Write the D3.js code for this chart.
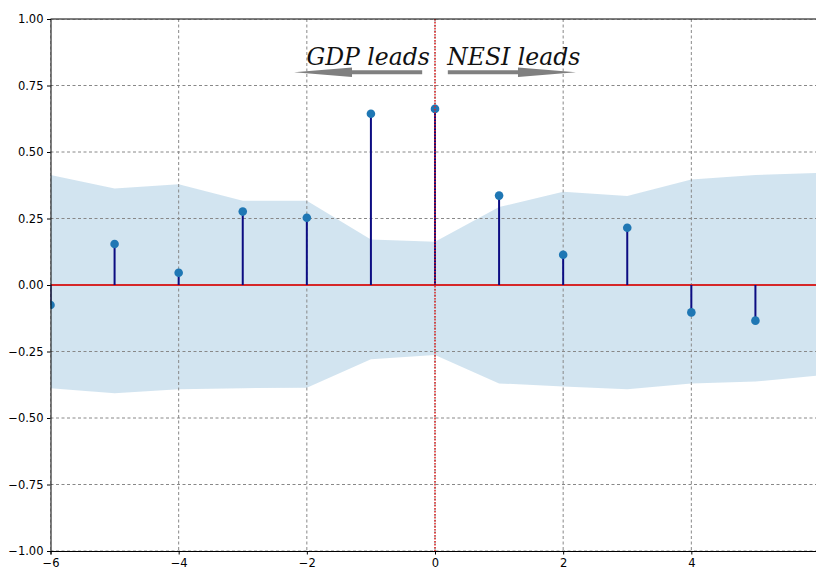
<!DOCTYPE html>
<html>
<head>
<meta charset="utf-8">
<script src="https://cdn.jsdelivr.net/npm/d3@7"></script>
<style>
  body { margin: 0; background: #fff; }
  svg { display: block; }
  .tick text { font-family: "DejaVu Sans", sans-serif; font-size: 11.5px; fill: #000; }
</style>
</head>
<body>
<div id="chart"></div>
<script>
// lags and cross-correlation values
const lags = [-6, -5, -4, -3, -2, -1, 0, 1, 2, 3, 4, 5];
const ccf = [-0.075, 0.154, 0.046, 0.276, 0.253, 0.644, 0.662, 0.336, 0.114, 0.215, -0.103, -0.134];

// confidence band (upper / lower) at each lag
const bandLags = [-6, -5, -4, -3, -2, -1, 0, 1, 2, 3, 4, 5, 6];
const bandUpper = [0.414, 0.363, 0.379, 0.317, 0.317, 0.171, 0.163, 0.293, 0.351, 0.335, 0.397, 0.414, 0.421];
const bandLower = [-0.388, -0.407, -0.392, -0.388, -0.386, -0.279, -0.263, -0.37, -0.382, -0.392, -0.37, -0.363, -0.34];

const xTicks = [-6, -4, -2, 0, 2, 4, 6];
const yTicks = [-1, -0.75, -0.5, -0.25, 0, 0.25, 0.5, 0.75, 1];

// arrow annotations: label, text anchor x, arrow from -> to
const notes = [
  { label: "GDP leads", tx: -0.08, anchor: "end", from: -0.2, to: -2.2 },
  { label: "NESI leads", tx: 0.19, anchor: "start", from: 0.2, to: 2.2 }
];
const noteY = 0.8;

const W = 816, H = 567;
const x = d3.scaleLinear().domain([-6, 6]).range([50.5, 819.5]);
const y = d3.scaleLinear().domain([-1, 1]).range([551, 19]);

const svg = d3.select("#chart").append("svg")
    .attr("width", W)
    .attr("height", H);

svg.append("defs").append("clipPath")
    .attr("id", "plot")
    .append("rect")
    .attr("x", x(-6)).attr("y", y(1))
    .attr("width", x(6) - x(-6)).attr("height", y(-1) - y(1));

const plot = svg.append("g").attr("clip-path", "url(#plot)");

// confidence band
const band = bandLags.map((d, i) => ({ lag: d, hi: bandUpper[i], lo: bandLower[i] }));
plot.append("path")
    .datum(band)
    .attr("fill", "#1f77b4")
    .attr("fill-opacity", 0.2)
    .attr("d", d3.area().x(d => x(d.lag)).y0(d => y(d.lo)).y1(d => y(d.hi)));

// grid
plot.append("g").selectAll("line")
    .data(xTicks)
    .join("line")
    .attr("x1", d => x(d)).attr("x2", d => x(d))
    .attr("y1", y(1)).attr("y2", y(-1))
    .attr("stroke", "#888")
    .attr("stroke-width", 1)
    .attr("stroke-dasharray", "3,2.5");

plot.append("g").selectAll("line")
    .data(yTicks)
    .join("line")
    .attr("x1", x(-6)).attr("x2", x(6))
    .attr("y1", d => y(d)).attr("y2", d => y(d))
    .attr("stroke", "#888")
    .attr("stroke-width", 1)
    .attr("stroke-dasharray", "3,2.5");

// zero line
plot.append("line")
    .attr("x1", x(-6)).attr("x2", x(6))
    .attr("y1", y(0)).attr("y2", y(0))
    .attr("stroke", "#d62728")
    .attr("stroke-width", 1.8);

const pts = lags.map((d, i) => ({ lag: d, v: ccf[i] }));

// stems
plot.append("g").selectAll("line")
    .data(pts)
    .join("line")
    .attr("x1", d => x(d.lag)).attr("x2", d => x(d.lag))
    .attr("y1", y(0)).attr("y2", d => y(d.v))
    .attr("stroke", "#0c0c82")
    .attr("stroke-width", 2);

// markers
plot.append("g").selectAll("circle")
    .data(pts)
    .join("circle")
    .attr("cx", d => x(d.lag))
    .attr("cy", d => y(d.v))
    .attr("r", 4.3)
    .attr("fill", "#1f77b4");

// vertical dotted line at lag 0
plot.append("line")
    .attr("x1", x(0)).attr("x2", x(0))
    .attr("y1", y(1)).attr("y2", y(-1))
    .attr("stroke", "#e02020")
    .attr("stroke-width", 1.5)
    .attr("stroke-dasharray", "1.5,1.5");

// arrows + labels
notes.forEach(n => {
    const x0 = x(n.from), x1 = x(n.to), yy = y(noteY);
    const dir = Math.sign(x1 - x0);
    const headLen = 58, shaft = 2, head = 4.8;
    const xh = x1 - dir * headLen;
    const pathStr = `M${x0},${yy - shaft} L${xh},${yy - shaft} L${xh},${yy - head} L${x1},${yy} ` +
        `L${xh},${yy + head} L${xh},${yy + shaft} L${x0},${yy + shaft} Z`;
    svg.append("path")
        .attr("d", pathStr)
        .attr("fill", "#808080");

    svg.append("text")
        .attr("x", x(n.tx))
        .attr("y", 65)
        .attr("text-anchor", n.anchor)
        .attr("font-family", "DejaVu Serif, serif")
        .attr("font-style", "italic")
        .attr("font-size", 23.5)
        .attr("fill", "#111")
        .text(n.label);
});

// axes
const axL = svg.append("g")
    .attr("transform", `translate(${x(-6)},0)`)
    .call(d3.axisLeft(y).tickValues(yTicks).tickSize(3.5).tickPadding(3.5)
        .tickFormat(d => d3.format(".2f")(d).replace("-", "\u2212")));

const axB = svg.append("g")
    .attr("transform", `translate(0,${y(-1)})`)
    .call(d3.axisBottom(x).tickValues(xTicks).tickSize(3.5).tickPadding(4.5)
        .tickFormat(d => String(d).replace("-", "\u2212")));

[axL, axB].forEach(a => {
    a.select(".domain").attr("stroke", "#000").attr("stroke-width", 1);
    a.selectAll(".tick line").attr("stroke", "#000");
});

// top spine
svg.append("line")
    .attr("x1", x(-6)).attr("x2", x(6))
    .attr("y1", y(1)).attr("y2", y(1))
    .attr("stroke", "#000")
    .attr("stroke-width", 1);
</script>
</body>
</html>
